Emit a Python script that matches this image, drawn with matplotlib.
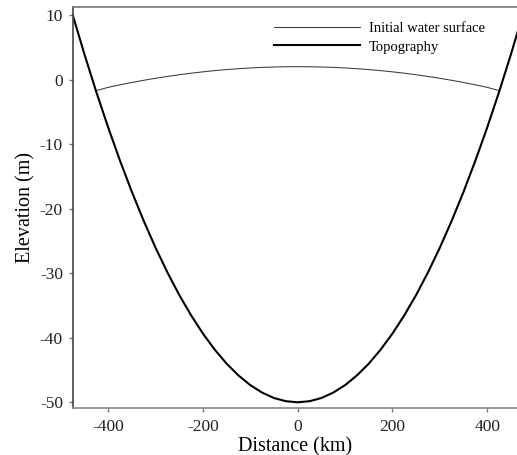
import matplotlib
matplotlib.use("Agg")
import matplotlib.pyplot as plt

# Bowl topography (km, m)
topo_x = [-475, -450, -425, -400, -375, -350, -325, -300, -275, -250, -225,
          -200, -175, -150, -125, -100, -75, -50, -25, 0,
          25, 50, 75, 100, 125, 150, 175, 200, 225, 250, 275, 300, 325,
          350, 375, 400, 425, 450, 475]
topo_z = [10.02, 3.87, -1.95, -7.44, -12.59, -17.41, -21.90, -26.06, -29.88,
          -33.38, -36.53, -39.36, -41.85, -44.02, -45.84, -47.34, -48.50,
          -49.34, -49.83, -50.00,
          -49.83, -49.34, -48.50, -47.34, -45.84, -44.02, -41.85, -39.36,
          -36.53, -33.38, -29.88, -26.06, -21.90, -17.41, -12.59, -7.44,
          -1.95, 3.87, 10.02]

# Initial free surface inside the bowl (km, m)
wet_x = [-426, -400, -375, -350, -325, -300, -275, -250, -225, -200, -175,
         -150, -125, -100, -75, -50, -25, 0,
         25, 50, 75, 100, 125, 150, 175, 200, 225, 250, 275, 300, 325, 350,
         375, 400, 426]
wet_z = [-1.72, -1.20, -0.81, -0.45, -0.11, 0.20, 0.49, 0.75, 0.99, 1.20, 1.39,
         1.55, 1.69, 1.80, 1.89, 1.95, 1.99, 2.00,
         1.99, 1.95, 1.89, 1.80, 1.69, 1.55, 1.39, 1.20, 0.99, 0.75, 0.49,
         0.20, -0.11, -0.45, -0.81, -1.20, -1.72]

x_ticks = [-400, -200, 0, 200, 400]
y_ticks = [10, 0, -10, -20, -30, -40, -50]

plt.rcParams["font.family"] = ["Liberation Serif", "DejaVu Serif"]
plt.rcParams["axes.unicode_minus"] = False

fig = plt.figure(figsize=(5.17, 4.55), dpi=100)
ax = fig.add_axes([72.7 / 517, 1 - 408.3 / 455, 1 - 72.7 / 517, (408.3 - 7.3) / 455])

ax.plot(wet_x, wet_z, color="#3a3a3a", lw=0.75, label="Initial water surface")
ax.plot(topo_x, topo_z, color="black", lw=1.5, label="Topography")

ax.set_xlim(-475, 463)
ax.set_ylim(-50.93, 11.2)
ax.set_xticks(x_ticks)
ax.set_yticks(y_ticks)

ax.spines["right"].set_visible(False)
ax.spines["top"].set_color("#777777")
ax.spines["bottom"].set_color("#888888")
ax.spines["left"].set_color("#444444")
for s in ax.spines.values():
    s.set_linewidth(1.2)

ax.tick_params(axis="both", direction="out", length=3, width=1, color="#777777",
               labelsize=12.5, labelcolor="#222222")
ax.tick_params(axis="x", pad=5)
ax.tick_params(axis="y", pad=4)

ax.set_xlabel("Distance (km)", fontsize=14.5, labelpad=1)
ax.set_ylabel("Elevation (m)", fontsize=14.5, labelpad=3)

leg = ax.legend(loc="upper left", bbox_to_anchor=(274.3 / 517, 1 - 22.0 / 455),
                bbox_transform=fig.transFigure, frameon=False, fontsize=10.5,
                handlelength=5.85, handletextpad=0.65, borderpad=0,
                borderaxespad=0, labelspacing=0.35)

fig.savefig("out.png", dpi=100)
